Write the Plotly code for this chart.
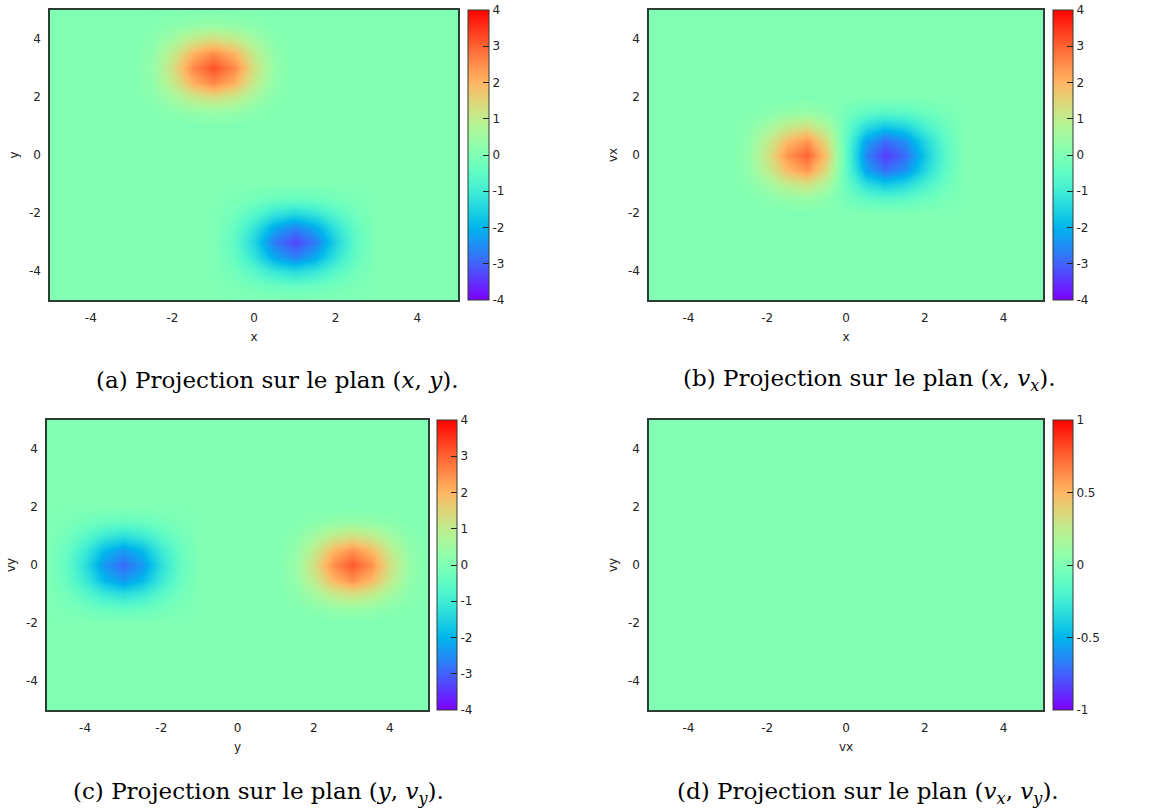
import numpy as np
import plotly.graph_objects as go

W, H = 1163, 811

# grid of sample positions (phase-space coordinate), shared by all panels
GRID = [-5.0, -4.5, -4.0, -3.5, -3.0, -2.5, -2.0, -1.5, -1.0, -0.5, 0.0,
        0.5, 1.0, 1.5, 2.0, 2.5, 3.0, 3.5, 4.0, 4.5, 5.0]
AXIS_TICKS = [-4, -2, 0, 2, 4]

# Panel (a): plane (x, y) -- blob centres (x, y) and local 7x7 values (rows: y offset -1.5..1.5)
A_CENTERS = [(-1.0, 3.0), (1.0, -3.0)]
A_POS = [
    [0.04, 0.15, 0.31, 0.38, 0.31, 0.15, 0.04],
    [0.13, 0.54, 1.08, 1.34, 1.08, 0.54, 0.13],
    [0.26, 1.02, 2.05, 2.56, 2.05, 1.02, 0.26],
    [0.32, 1.28, 2.56, 3.20, 2.56, 1.28, 0.32],
    [0.26, 1.02, 2.05, 2.56, 2.05, 1.02, 0.26],
    [0.13, 0.54, 1.08, 1.34, 1.08, 0.54, 0.13],
    [0.04, 0.15, 0.31, 0.38, 0.31, 0.15, 0.04],
]
A_NEG = [
    [-0.06, -0.18, -0.32, -0.40, -0.32, -0.18, -0.06],
    [-0.21, -0.62, -1.14, -1.39, -1.14, -0.62, -0.21],
    [-0.40, -1.19, -2.16, -2.64, -2.16, -1.19, -0.40],
    [-0.50, -1.49, -2.71, -3.30, -2.71, -1.49, -0.50],
    [-0.40, -1.19, -2.16, -2.64, -2.16, -1.19, -0.40],
    [-0.21, -0.62, -1.14, -1.39, -1.14, -0.62, -0.21],
    [-0.06, -0.18, -0.32, -0.40, -0.32, -0.18, -0.06],
]

# Panel (b): plane (x, vx)
B_CENTERS = [(-1.0, 0.0), (1.0, 0.0)]
B_POS = [
    [0.04, 0.14, 0.29, 0.36, 0.29, 0.14, 0.04],
    [0.13, 0.50, 1.01, 1.26, 1.01, 0.50, 0.13],
    [0.24, 0.96, 1.92, 2.40, 1.92, 0.96, 0.24],
    [0.30, 1.20, 2.40, 3.00, 2.40, 1.20, 0.30],
    [0.24, 0.96, 1.92, 2.40, 1.92, 0.96, 0.24],
    [0.13, 0.50, 1.01, 1.26, 1.01, 0.50, 0.13],
    [0.04, 0.14, 0.29, 0.36, 0.29, 0.14, 0.04],
]
B_NEG = [
    [-0.11, -0.31, -0.52, -0.61, -0.52, -0.31, -0.11],
    [-0.31, -0.85, -1.45, -1.70, -1.45, -0.85, -0.31],
    [-0.52, -1.45, -2.46, -2.89, -2.46, -1.45, -0.52],
    [-0.61, -1.70, -2.89, -3.40, -2.89, -1.70, -0.61],
    [-0.52, -1.45, -2.46, -2.89, -2.46, -1.45, -0.52],
    [-0.31, -0.85, -1.45, -1.70, -1.45, -0.85, -0.31],
    [-0.11, -0.31, -0.52, -0.61, -0.52, -0.31, -0.11],
]

# Panel (c): plane (y, vy)
C_CENTERS = [(-3.0, 0.0), (3.0, 0.0)]
C_NEG = [
    [-0.07, -0.20, -0.36, -0.44, -0.36, -0.20, -0.07],
    [-0.20, -0.59, -1.07, -1.31, -1.07, -0.59, -0.20],
    [-0.36, -1.07, -1.95, -2.38, -1.95, -1.07, -0.36],
    [-0.44, -1.31, -2.38, -2.90, -2.38, -1.31, -0.44],
    [-0.36, -1.07, -1.95, -2.38, -1.95, -1.07, -0.36],
    [-0.20, -0.59, -1.07, -1.31, -1.07, -0.59, -0.20],
    [-0.07, -0.20, -0.36, -0.44, -0.36, -0.20, -0.07],
]
C_POS = [
    [0.04, 0.16, 0.30, 0.37, 0.30, 0.16, 0.04],
    [0.16, 0.55, 1.04, 1.30, 1.04, 0.55, 0.16],
    [0.30, 1.04, 1.98, 2.48, 1.98, 1.04, 0.30],
    [0.37, 1.30, 2.48, 3.10, 2.48, 1.30, 0.37],
    [0.30, 1.04, 1.98, 2.48, 1.98, 1.04, 0.30],
    [0.16, 0.55, 1.04, 1.30, 1.04, 0.55, 0.16],
    [0.04, 0.16, 0.30, 0.37, 0.30, 0.16, 0.04],
]

# Panel (d): plane (vx, vy) -- uniformly zero
D_CENTERS = []

CBAR_TICKS_4 = [-4, -3, -2, -1, 0, 1, 2, 3, 4]
CBAR_TICKS_1 = [-1, -0.5, 0, 0.5, 1]

CAPTIONS = [
    "(a) Projection sur le plan (<i>x</i>, <i>y</i>).",
    "(b) Projection sur le plan (<i>x</i>, <i>v<sub>x</sub></i>).",
    "(c) Projection sur le plan (<i>y</i>, <i>v<sub>y</sub></i>).",
    "(d) Projection sur le plan (<i>v<sub>x</sub></i>, <i>v<sub>y</sub></i>).",
]
XTITLES = ["x", "x", "y", "vx"]
YTITLES = ["y", "vx", "vy", "vy"]


def build_grid(centers, patches):
    z = np.zeros((len(GRID), len(GRID)))
    for (cx, cy), p in zip(centers, patches):
        ix = GRID.index(cx)
        iy = GRID.index(cy)
        z[iy - 3:iy + 4, ix - 3:ix + 4] += np.array(p)
    return z


Z = [
    build_grid(A_CENTERS, [A_POS, A_NEG]),
    build_grid(B_CENTERS, [B_POS, B_NEG]),
    build_grid(C_CENTERS, [C_NEG, C_POS]),
    build_grid(D_CENTERS, []),
]

# gnuplot "rgbformulae 33,13,10" rainbow palette
stops = []
for t in np.linspace(0, 1, 41):
    r = abs(2 * t - 0.5)
    g = np.sin(np.pi * t)
    b = np.cos(np.pi * t / 2)
    r, g, b = [int(round(255 * min(max(v, 0), 1))) for v in (r, g, b)]
    stops.append([float(t), f"rgb({r},{g},{b})"])


def px_x(p):
    return p / W


def px_y(p):
    return 1 - p / H


def lbl(v):
    return f"{v:g}"


# layout boxes in pixels: (left, right, top, bottom), colorbar left, colorbar width
BOXES = [
    (50, 458, 10, 300, 468, 21),
    (649, 1043, 10, 300, 1053, 20),
    (47, 428, 420, 710, 437, 20),
    (649, 1043, 420, 710, 1053, 20),
]
CAP_POS = [(277, 380), (869, 380), (258, 793), (868, 793)]
ZRANGES = [(-4, 4), (-4, 4), (-4, 4), (-1, 1)]
CTICKS = [CBAR_TICKS_4, CBAR_TICKS_4, CBAR_TICKS_4, CBAR_TICKS_1]

fig = go.Figure()
border = "#2d3d33"
tickfont = dict(family="DejaVu Sans", size=12, color="#222222")
titlefont = dict(family="DejaVu Sans", size=12, color="#222222")

for i in range(4):
    l, r, t, b, cbl, cbw = BOXES[i]
    zmin, zmax = ZRANGES[i]
    suffix = "" if i == 0 else str(i + 1)
    fig.add_trace(go.Heatmap(
        x=GRID, y=GRID, z=Z[i],
        zmin=zmin, zmax=zmax, zsmooth="best",
        colorscale=stops,
        xaxis="x" + suffix, yaxis="y" + suffix,
        colorbar=dict(
            x=px_x(cbl), xanchor="left", xref="paper",
            y=px_y((t + b) / 2), yanchor="middle", yref="paper",
            len=(b - t) / H, lenmode="fraction",
            thickness=cbw, thicknessmode="pixels",
            xpad=0, ypad=0,
            outlinewidth=1, outlinecolor=border,
            tickvals=CTICKS[i], ticktext=[lbl(v) for v in CTICKS[i]],
            ticks="inside", ticklen=6, tickcolor="#222222", tickwidth=1,
            tickfont=tickfont,
        ),
        hoverinfo="skip",
    ))
    fig.layout["xaxis" + suffix] = dict(
        domain=[px_x(l), px_x(r)], range=[-5, 5], anchor="y" + suffix,
        tickvals=AXIS_TICKS, ticktext=[lbl(v) for v in AXIS_TICKS],
        ticks="", showgrid=False, zeroline=False,
        showline=True, mirror=True, linecolor=border, linewidth=1.5,
        tickfont=tickfont, ticklabelstandoff=6,
        title=dict(text=XTITLES[i], font=titlefont, standoff=8),
    )
    fig.layout["yaxis" + suffix] = dict(
        domain=[px_y(b), px_y(t)], range=[-5, 5], anchor="x" + suffix,
        tickvals=AXIS_TICKS, ticktext=[lbl(v) for v in AXIS_TICKS],
        ticks="", showgrid=False, zeroline=False,
        showline=True, mirror=True, linecolor=border, linewidth=1.5,
        tickfont=tickfont, ticklabelstandoff=5,
        title=dict(text=YTITLES[i], font=titlefont, standoff=8),
    )
    cx, cy = CAP_POS[i]
    fig.add_annotation(
        text=CAPTIONS[i], x=px_x(cx), y=px_y(cy), xref="paper", yref="paper",
        xanchor="center", yanchor="middle", showarrow=False,
        font=dict(family="DejaVu Serif", size=23, color="#000000"),
    )

fig.update_layout(
    width=W, height=H,
    margin=dict(l=0, r=0, t=0, b=0),
    paper_bgcolor="white", plot_bgcolor="white",
    showlegend=False,
)

fig.write_html("out.html", config={"displayModeBar": False},
               post_script="document.body.style.margin='0px';")
